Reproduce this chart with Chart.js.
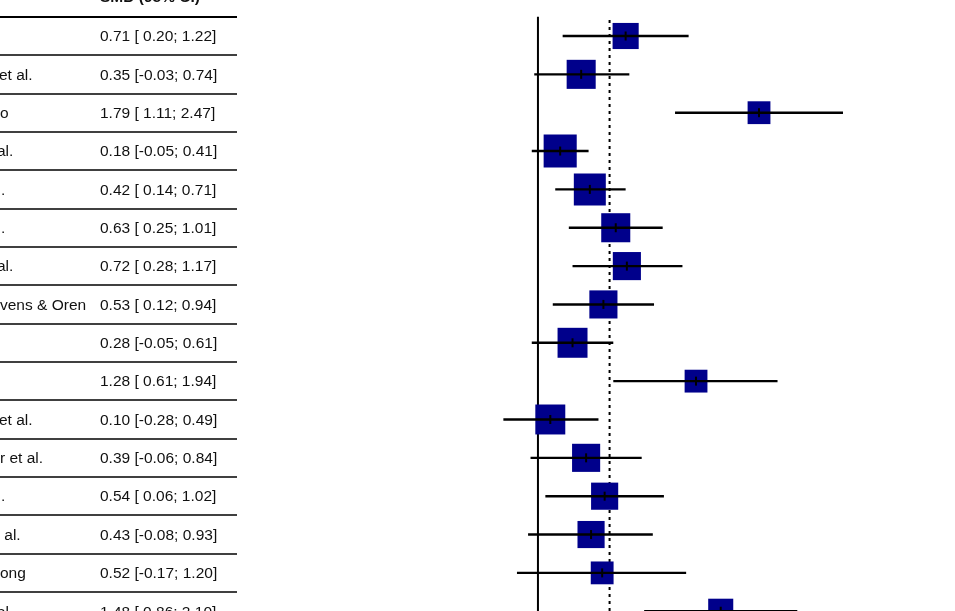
<!DOCTYPE html>
<html>
<head>
<meta charset="utf-8">
<script src="https://cdn.jsdelivr.net/npm/chart.js@4"></script>
<style>
  html, body { margin: 0; padding: 0; background: #fff; overflow: hidden; }
  #wrap { width: 955px; height: 611px; }
</style>
</head>
<body>
<div id="wrap"><canvas id="forest" width="955" height="611"></canvas></div>
<script>
// study labels (only the right-hand part is visible in the crop)
const studyNames = ['', 'et al.', 'o', 'al.', '.', '.', 'al.', 'vens & Oren', '', '',
    'et al.', 'r et al.', '.', ' al.', 'ong', 'al.'];
const smd   = [0.71, 0.35, 1.79, 0.18, 0.42, 0.63, 0.72, 0.53, 0.28, 1.28, 0.10, 0.39, 0.54, 0.43, 0.52, 1.48];
const lower = [0.20, -0.03, 1.11, -0.05, 0.14, 0.25, 0.28, 0.12, -0.05, 0.61, -0.28, -0.06, 0.06, -0.08, -0.17, 0.86];
const upper = [1.22, 0.74, 2.47, 0.41, 0.71, 1.01, 1.17, 0.94, 0.61, 1.94, 0.49, 0.84, 1.02, 0.93, 1.20, 2.10];
// study weights in percent (square area)
const weights = [3.8, 4.7, 2.9, 6.1, 5.7, 4.7, 4.4, 4.4, 5.0, 2.9, 5.0, 4.4, 4.1, 4.1, 2.9, 3.5];
const pooledSMD = 0.58;
const headerText = 'SMD (95% CI)';

const rows = smd.map((v, i) => i + 1);
const fmt = v => (v < 0 ? '' : ' ') + v.toFixed(2);
const ciText = smd.map((v, i) => v.toFixed(2) + ' [' + fmt(lower[i]) + '; ' + upper[i].toFixed(2) + ']');

const FONT = '"Liberation Sans", Arial, sans-serif';

// one dataset per confidence interval
const ciSets = smd.map((v, i) => ({
    type: 'line',
    data: [{ x: lower[i], y: rows[i] }, { x: upper[i], y: rows[i] }],
    borderColor: '#000',
    borderWidth: 2.4,
    pointRadius: 0,
    order: 2
}));

// draws the table on the left
const tablePlugin = {
    id: 'table',
    afterDraw(chart) {
        const ctx = chart.ctx;
        const y = chart.scales.y;
        ctx.save();
        ctx.textBaseline = 'middle';
        ctx.textAlign = 'left';
        ctx.fillStyle = '#111';

        ctx.font = 'bold 15.5px ' + FONT;
        ctx.fillText(headerText, 100, y.getPixelForValue(0));

        ctx.font = '15.5px ' + FONT;
        rows.forEach((r, i) => {
            const py = y.getPixelForValue(r) + 1;
            let nx = 0;
            if (studyNames[i] === 'al.') nx = -3;
            if (studyNames[i] === '.') nx = 1;
            if (studyNames[i] === 'et al.') nx = -1;
            ctx.fillText(studyNames[i], nx, py);
            ctx.fillText(ciText[i], 100, py);
        });

        // separators
        ctx.strokeStyle = '#000';
        for (let k = 0; k <= rows.length; k++) {
            const py = Math.round(y.getPixelForValue(k + 0.5));
            ctx.lineWidth = k === 0 ? 2 : 1.5;
            ctx.beginPath();
            ctx.moveTo(0, py);
            ctx.lineTo(237, py);
            ctx.stroke();
        }
        ctx.restore();
    }
};

const ctx = document.getElementById('forest').getContext('2d');
new Chart(ctx, {
    type: 'scatter',
    data: {
        datasets: [
            {
                // line of no effect
                type: 'line',
                data: [{ x: 0, y: 0.5 }, { x: 0, y: 17 }],
                borderColor: '#000',
                borderWidth: 2,
                pointRadius: 0,
                order: 5
            },
            {
                // pooled estimate
                type: 'line',
                data: [{ x: pooledSMD, y: 0.58 }, { x: pooledSMD, y: 17 }],
                borderColor: '#000',
                borderWidth: 2,
                borderDash: [3, 4],
                pointRadius: 0,
                order: 4
            },
            {
                // weight squares
                data: smd.map((v, i) => ({ x: v, y: rows[i] })),
                pointStyle: 'rect',
                pointRadius: weights.map(w => Math.sqrt(w) * 13.4 / Math.SQRT2),
                backgroundColor: '#00008b',
                borderColor: '#00008b',
                borderWidth: 0,
                order: 3
            },
            ...ciSets,
            {
                // estimate tick
                data: smd.map((v, i) => ({ x: v, y: rows[i] })),
                pointStyle: 'line',
                rotation: 90,
                pointRadius: 4.5,
                borderColor: '#000',
                borderWidth: 2,
                order: 1
            }
        ]
    },
    options: {
        responsive: false,
        animation: false,
        devicePixelRatio: 1,
        layout: { padding: 0, autoPadding: false },
        plugins: {
            legend: { display: false },
            tooltip: { enabled: false }
        },
        scales: {
            x: { type: 'linear', display: false, min: -4.356, max: 3.377 },
            y: { type: 'linear', display: false, reverse: true, min: 0.0613, max: 15.994 }
        }
    },
    plugins: [tablePlugin]
});
</script>
</body>
</html>
